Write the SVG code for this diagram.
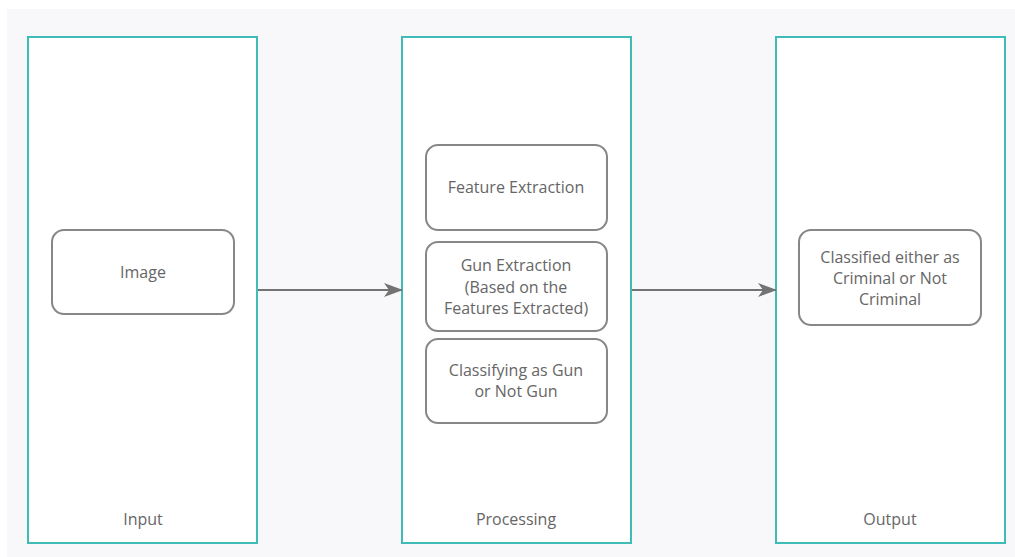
<svg xmlns="http://www.w3.org/2000/svg" width="1015" height="557" viewBox="0 0 1015 557">
  <style>
    .lane { fill: #ffffff; stroke: #3fbcb7; stroke-width: 2; }
    .box { fill: #ffffff; stroke: #878787; stroke-width: 2; }
    .label { font-family: "Open Sans", "Noto Sans", sans-serif; font-size: 16px; fill: #666666; text-anchor: middle; dominant-baseline: central; }
    .link { stroke: #737373; stroke-width: 2; fill: none; }
  </style>
  <defs>
    <!-- notched arrowhead, 19 long by 14 wide -->
    <marker id="arrow" markerWidth="19" markerHeight="14" refX="18" refY="7" orient="auto" markerUnits="userSpaceOnUse" viewBox="0 0 19 14">
      <path d="M0,0 L19,7 L0,14 L5,7 Z" fill="#737373"/>
    </marker>
  </defs>

  <rect x="0" y="0" width="1015" height="557" fill="#ffffff"/>
  <rect x="7" y="9" width="1008" height="548" fill="#f8f8fa"/>

  <!-- Input lane -->
  <g id="lane-input">
    <rect class="lane" x="28" y="37" width="229" height="506"/>
    <text class="label" x="143" y="519">Input</text>
  </g>
  <!-- Processing lane -->
  <g id="lane-processing">
    <rect class="lane" x="402" y="37" width="229" height="506"/>
    <text class="label" x="516" y="519">Processing</text>
  </g>
  <!-- Output lane -->
  <g id="lane-output">
    <rect class="lane" x="776" y="37" width="229" height="506"/>
    <text class="label" x="890" y="519">Output</text>
  </g>

  <g id="node-image">
    <rect class="box" x="52" y="230" width="182" height="84" rx="12"/>
    <text class="label" x="143" y="272">Image</text>
  </g>

  <g id="node-feature-extraction">
    <rect class="box" x="426" y="145" width="181" height="85" rx="12"/>
    <text class="label" x="516" y="187">Feature Extraction</text>
  </g>

  <g id="node-gun-extraction">
    <rect class="box" x="426" y="242" width="181" height="89" rx="12"/>
    <text class="label" x="516" y="265">Gun Extraction</text>
    <text class="label" x="516" y="287">(Based on the</text>
    <text class="label" x="516" y="308">Features Extracted)</text>
  </g>

  <g id="node-classifying">
    <rect class="box" x="426" y="339" width="181" height="84" rx="12"/>
    <text class="label" x="516" y="370">Classifying as Gun</text>
    <text class="label" x="516" y="391">or Not Gun</text>
  </g>

  <g id="node-result">
    <rect class="box" x="799" y="230" width="182" height="95" rx="12"/>
    <text class="label" x="890" y="257">Classified either as</text>
    <text class="label" x="890" y="278">Criminal or Not</text>
    <text class="label" x="890" y="299">Criminal</text>
  </g>

  <g id="connectors">
    <line class="link" x1="258" y1="290" x2="402" y2="290" marker-end="url(#arrow)"/>
    <line class="link" x1="632" y1="290" x2="776" y2="290" marker-end="url(#arrow)"/>
  </g>
</svg>
